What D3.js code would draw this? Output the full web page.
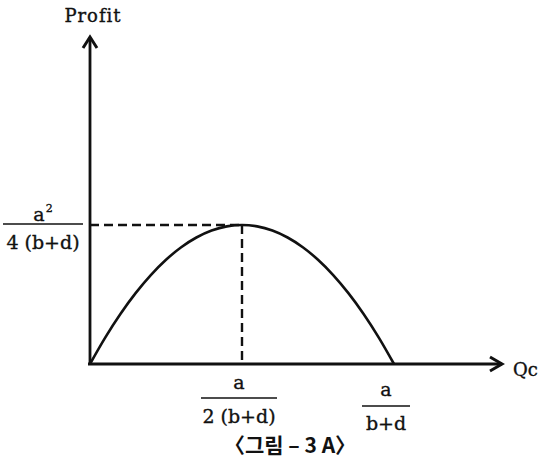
<!DOCTYPE html>
<html>
<head>
<meta charset="utf-8">
<script src="https://cdn.jsdelivr.net/npm/d3@7/dist/d3.min.js"></script>
<style>
  html, body { margin: 0; padding: 0; background: #fff; }
  svg { display: block; }
  .serif { font-family: "DejaVu Serif", "Liberation Serif", serif; fill: #111; stroke: #111; stroke-width: 0.35; }
  .cap { font-family: "Noto Sans CJK KR", "Noto Sans", sans-serif; font-weight: 700; fill: #111; }
</style>
</head>
<body>
<svg id="chart" width="540" height="460"></svg>
<script>
// Profit as a function of output Qc (units where a/(b+d) = 2, peak at Qc = 1)
const qValues = [0, 0.1, 0.2, 0.3, 0.4, 0.5, 0.6, 0.7, 0.8, 0.9, 1.0,
                 1.1, 1.2, 1.3, 1.4, 1.5, 1.6, 1.7, 1.8, 1.9, 2.0];
const profitValues = [0, 0.38, 0.72, 1.02, 1.28, 1.5, 1.68, 1.82, 1.92, 1.98, 2.0,
                      1.98, 1.92, 1.82, 1.68, 1.5, 1.28, 1.02, 0.72, 0.38, 0];

// Key points on the axes
const peakQ = 1.0;       // a / 2(b+d)
const peakProfit = 2.0;  // a^2 / 4(b+d)
const zeroQ = 2.0;       // a / (b+d)

// Axis labels
const yTitle = "Profit";
const xTitle = "Qc";
const caption = "〈그림 – 3 A〉";

const svg = d3.select("#chart");

const x = d3.scaleLinear().domain([0, 2]).range([90, 394]);
const y = d3.scaleLinear().domain([0, 2]).range([364, 225]);

const xEnd = x.invert(502);
const yEnd = y.invert(37);

const ink = "#111";

// Axes
svg.append("line")
  .attr("x1", x(0)).attr("y1", y(0) + 1)
  .attr("x2", x(0)).attr("y2", y(yEnd))
  .attr("stroke", ink).attr("stroke-width", 2.8);
svg.append("line")
  .attr("x1", x(0) - 2).attr("y1", y(0))
  .attr("x2", x(xEnd)).attr("y2", y(0))
  .attr("stroke", ink).attr("stroke-width", 2.8);

// Open arrowheads
svg.append("path")
  .attr("d", `M${x(0) - 7},${y(yEnd) + 11} L${x(0)},${y(yEnd)} L${x(0) + 7},${y(yEnd) + 11}`)
  .attr("fill", "none").attr("stroke", ink).attr("stroke-width", 3)
  .attr("stroke-linejoin", "miter");
svg.append("path")
  .attr("d", `M${x(xEnd) - 12},${y(0) - 7} L${x(xEnd)},${y(0)} L${x(xEnd) - 12},${y(0) + 7}`)
  .attr("fill", "none").attr("stroke", ink).attr("stroke-width", 3)
  .attr("stroke-linejoin", "miter");

// Dashed guides to the peak
svg.append("line")
  .attr("x1", x(0)).attr("y1", y(peakProfit))
  .attr("x2", x(peakQ)).attr("y2", y(peakProfit))
  .attr("stroke", ink).attr("stroke-width", 2.4)
  .attr("stroke-dasharray", "9,5");
svg.append("line")
  .attr("x1", x(peakQ)).attr("y1", y(peakProfit))
  .attr("x2", x(peakQ)).attr("y2", y(0))
  .attr("stroke", ink).attr("stroke-width", 2.4)
  .attr("stroke-dasharray", "9,5");

// Profit curve
const pts = qValues.map((q, i) => [q, profitValues[i]]);
svg.append("path")
  .datum(pts)
  .attr("d", d3.line().x(d => x(d[0])).y(d => y(d[1])).curve(d3.curveCatmullRom))
  .attr("fill", "none").attr("stroke", ink).attr("stroke-width", 2.6);

// Fraction label helper
function fraction(cx, lineY, halfW, num, den, numBase, denBase) {
  const g = svg.append("g");
  const t = g.append("text").attr("class", "serif")
    .attr("x", cx).attr("y", numBase)
    .attr("text-anchor", "middle").attr("font-size", 19);
  num(t);
  g.append("line")
    .attr("x1", cx - halfW).attr("x2", cx + halfW)
    .attr("y1", lineY).attr("y2", lineY)
    .attr("stroke", ink).attr("stroke-width", 1.3);
  g.append("text").attr("class", "serif")
    .attr("x", cx).attr("y", denBase)
    .attr("text-anchor", "middle").attr("font-size", 19)
    .text(den);
}

// a^2 / 4(b+d) on the profit axis
fraction(43, y(peakProfit) - 1, 40,
  t => { t.append("tspan").text("a");
         t.append("tspan").attr("font-size", 11).attr("dy", -9).attr("dx", 1).text("2"); },
  "4 (b+d)", y(peakProfit) - 4, y(peakProfit) + 24);

// a / 2(b+d) under the peak
fraction(x(peakQ) - 3, 398, 38,
  t => t.text("a"), "2 (b+d)", 389, 423);

// a / (b+d) where profit returns to zero
fraction(x(zeroQ) - 8, 406, 24,
  t => t.text("a"), "b+d", 396, 430);

// Axis titles
svg.append("text").attr("class", "serif")
  .attr("x", 93).attr("y", 22)
  .attr("text-anchor", "middle").attr("font-size", 18)
  .attr("letter-spacing", 1)
  .text(yTitle);
svg.append("text").attr("class", "serif")
  .attr("x", 513).attr("y", 376)
  .attr("font-size", 18)
  .text(xTitle);

// Caption
svg.append("text").attr("class", "cap")
  .attr("x", 290).attr("y", 453)
  .attr("text-anchor", "middle").attr("font-size", 21)
  .text(caption);
</script>
</body>
</html>
